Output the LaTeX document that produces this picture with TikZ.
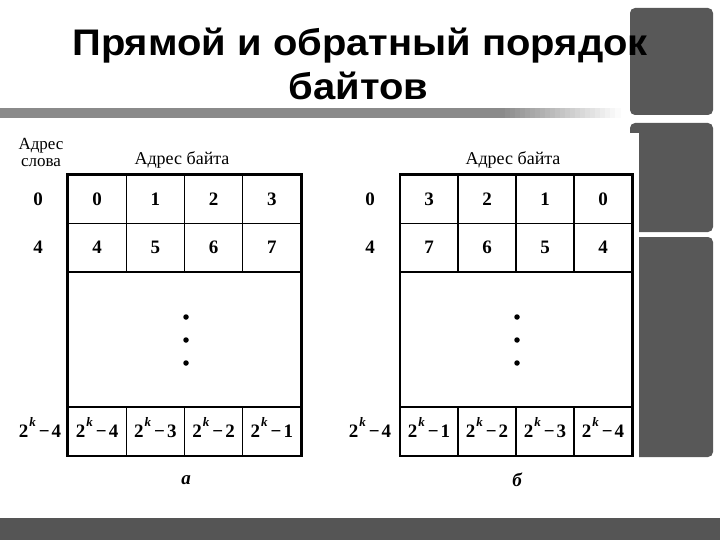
\documentclass[tikz,border=0pt]{standalone}
\usepackage{fontspec}
\setmainfont{Liberation Serif}
\newfontfamily\titlefont{Liberation Sans}
\definecolor{decor}{RGB}{88,88,88}
\definecolor{bargray}{RGB}{138,138,138}
\definecolor{footgray}{RGB}{85,85,85}
\newcommand\tkm[1]{2\kern1pt\raisebox{0.55em}{\fontsize{13}{13}\selectfont\itshape k}\kern3pt−\kern2pt#1}
\begin{document}
\begin{tikzpicture}[x=1pt,y=-1pt,
  cell/.style={draw, line width=1.2pt, minimum width=58.25pt, minimum height=48.5pt, inner sep=0pt, text height=12pt, text depth=0pt, font=\fontsize{19}{20}\selectfont\bfseries},
  rcell/.style={cell, minimum width=58pt},
  mid/.style={draw, line width=1.2pt, minimum height=135pt, inner sep=0pt},
  lbl/.style={font=\fontsize{19}{20}\selectfont\bfseries, inner sep=0pt, text height=12pt, text depth=0pt},
  hdr/.style={font=\fontsize{18}{18}\selectfont, inner sep=0pt},
  dotm/.style={circle, fill=black, inner sep=0pt, minimum size=5.5pt},
  sub/.style={font=\fontsize{19}{20}\selectfont\bfseries\itshape, inner sep=0pt},
  ttl/.style={font=\titlefont\fontsize{37}{40}\selectfont\bfseries, inner sep=0pt, anchor=base}
]
\useasboundingbox (0,0) rectangle (720,540);
% decoration
\fill[decor, rounded corners=5pt] (630,8) rectangle (713,115);
\fill[decor, rounded corners=5pt] (630,123) rectangle (713,232);
\fill[decor, rounded corners=5pt] (630,237) rectangle (713,457);
\fill[white] (0,133) rectangle (638.5,462);
\fill[bargray] (0,108) rectangle (500,118);
\foreach \i in {0,...,23} {
  \pgfmathsetmacro\pc{100-\i*4.2}
  \fill[bargray!\pc!white] (500+\i*5,108) rectangle (505.5+\i*5,118);
}
\fill[footgray] (0,518) rectangle (720,540);
% title
\node[ttl] (t1) at (360,56) {\scalebox{1.08}[1]{Прямой и обратный порядок}};
\node[ttl] (t2) at (358.5,100) {\scalebox{1.08}[1]{байтов}};
% left table
\node[hdr, align=center, font=\fontsize{17}{17}\selectfont] (ws) at (41,152) {Адрес\\слова};
\node[hdr] (bh1) at (182,160) {Адрес байта};
\node[cell] (a00) at (97.1,199.25) {0};
\node[cell] (a01) at (155.4,199.25) {1};
\node[cell] (a02) at (213.6,199.25) {2};
\node[cell] (a03) at (271.9,199.25) {3};
\node[cell] (a10) at (97.1,247.75) {4};
\node[cell] (a11) at (155.4,247.75) {5};
\node[cell] (a12) at (213.6,247.75) {6};
\node[cell] (a13) at (271.9,247.75) {7};
\node[mid, minimum width=233pt] (am) at (184.5,339.5) {};
\node[cell] (a20) at (97.1,431.25) {\tkm{4}};
\node[cell] (a21) at (155.4,431.25) {\tkm{3}};
\node[cell] (a22) at (213.6,431.25) {\tkm{2}};
\node[cell] (a23) at (271.9,431.25) {\tkm{1}};
\draw[line width=1.8pt] (a00.north west) rectangle (a23.south east);
\node[dotm] (ad1) at (186,317) {};
\node[dotm] (ad2) at (186,340) {};
\node[dotm] (ad3) at (186,363) {};
\node[lbl] (aw0) at (38,199.25) {0};
\node[lbl] (aw1) at (38,247.75) {4};
\node[lbl] (aw2) at (40,431.25) {\tkm{4}};
\node[sub] (la) at (186,480) {а};
% right table
\node[hdr] (bh2) at (513,160) {Адрес байта};
\node[rcell] (b00) at (429,199.25) {3};
\node[rcell] (b01) at (487,199.25) {2};
\node[rcell] (b02) at (545,199.25) {1};
\node[rcell] (b03) at (603,199.25) {0};
\node[rcell] (b10) at (429,247.75) {7};
\node[rcell] (b11) at (487,247.75) {6};
\node[rcell] (b12) at (545,247.75) {5};
\node[rcell] (b13) at (603,247.75) {4};
\node[mid, minimum width=232pt] (bm) at (516,339.5) {};
\node[rcell] (b20) at (429,431.25) {\tkm{1}};
\node[rcell] (b21) at (487,431.25) {\tkm{2}};
\node[rcell] (b22) at (545,431.25) {\tkm{3}};
\node[rcell] (b23) at (603,431.25) {\tkm{4}};
\draw[line width=1.8pt] (b00.north west) rectangle (b23.south east);
\node[dotm] (bd1) at (517,317) {};
\node[dotm] (bd2) at (517,340) {};
\node[dotm] (bd3) at (517,363) {};
\node[lbl] (bw0) at (370,199.25) {0};
\node[lbl] (bw1) at (370,247.75) {4};
\node[lbl] (bw2) at (370,431.25) {\tkm{4}};
\node[sub] (lb) at (517,480) {б};
\end{tikzpicture}
\end{document}
